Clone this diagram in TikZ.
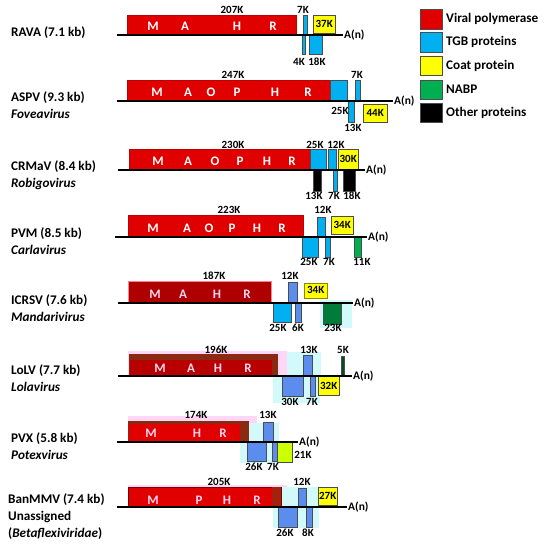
\documentclass[tikz,border=0pt]{standalone}
\usepackage{fontspec}
\setmainfont{Carlito}
\usepackage{xcolor}
\usepackage{tikz}
\usetikzlibrary{positioning}
\definecolor{polred}{HTML}{E00000}
\definecolor{polbrown}{HTML}{8B2A12}
\definecolor{tgbblue}{HTML}{00B0F0}
\definecolor{tgbviolet}{HTML}{5B8DEF}
\definecolor{cpyellow}{HTML}{FFFF00}
\definecolor{nabpgreen}{HTML}{00B050}
\definecolor{halopink}{HTML}{FFD6F5}
\definecolor{halocyan}{HTML}{D2FAFA}
\tikzset{
  orf/.style={rectangle, inner sep=0pt, draw=gray!60!black, line width=0.4pt, font=\bfseries\fontsize{11}{12}\selectfont},
  pol/.style={orf, fill=polred, draw=polred!85!black},
  tgb/.style={orf, fill=tgbblue},
  tgbv/.style={orf, fill=tgbviolet},
  cp/.style={orf, fill=cpyellow},
  nabp/.style={orf, fill=nabpgreen},
  other/.style={orf, fill=black},
  up/.style={anchor=south west},
  down/.style={anchor=north west},
  size/.style={inner sep=0pt, font=\bfseries\fontsize{11}{12}\selectfont},
  dom/.style={inner sep=0pt, text=white, font=\bfseries\fontsize{13}{14}\selectfont},
  virus/.style={anchor=west, align=left, inner sep=0pt, font=\bfseries\fontsize{13.2}{17}\selectfont},
  polya/.style={anchor=west, inner sep=1pt, font=\bfseries\fontsize{11.5}{13}\selectfont},
  genome/.style={line width=2.7pt, black},
  key/.style={rectangle, draw=gray!60!black, minimum width=22, minimum height=19.5, inner sep=0pt},
  keytext/.style={anchor=west, inner sep=0pt, font=\bfseries\fontsize{13.2}{15}\selectfont},
}
\begin{document}
\begin{tikzpicture}[x=1pt, y=-1pt]
  \useasboundingbox (0,0) rectangle (547,550);
  % legend
  \node[key, fill=polred] (k1) at (431,19) {};
  \node[key, fill=tgbblue] (k2) at (431,42) {};
  \node[key, fill=cpyellow] (k3) at (431,65.5) {};
  \node[key, fill=nabpgreen] (k4) at (431,89.5) {};
  \node[key, fill=black] (k5) at (431,112.5) {};
  \node[keytext] (t1) at (446,19) {Viral polymerase};
  \node[keytext] (t2) at (446,42) {TGB proteins};
  \node[keytext] (t3) at (446,65.5) {Coat protein};
  \node[keytext] (t4) at (446,89.5) {NABP};
  \node[keytext] (t5) at (446,112.5) {Other proteins};

  % RAVA
  \node[virus] (rava) at (11,33) {RAVA (7.1 kb)};
  \node[pol, up, minimum width=169, minimum height=20] (rava-pol) at (127,35) {};
  \node[tgb, up, minimum width=4, minimum height=20] (rava-7k) at (303,35) {};
  \node[cp, up, minimum width=22, minimum height=18] (rava-cp) at (313,33) {37K};
  \node[tgb, down, minimum width=3, minimum height=19] (rava-4k) at (302,35) {};
  \node[tgb, down, minimum width=13, minimum height=19] (rava-18k) at (309,35) {};
  \foreach \d/\x in {M/153,A/185,H/237,R/273} \node[dom] (rava-\d) at (\x,26.5) {\d};
  \node[size] (rava-l1) at (232,10) {207K};
  \node[size] (rava-l2) at (303,10) {7K};
  \node[size] (rava-l3) at (299,62) {4K};
  \node[size] (rava-l4) at (317,62) {18K};
  \coordinate (rava-5) at (117,35);
  \node[polya] (rava-an) at (343,35) {A(n)};

  % ASPV
  \node[virus] (aspv) at (11,105.5) {ASPV (9.3 kb)\\\textit{Foveavirus}};
  \node[pol, up, minimum width=203, minimum height=21] (aspv-pol) at (127,101) {};
  \node[tgb, up, minimum width=17, minimum height=21] (aspv-25k) at (330,101) {};
  \node[tgb, up, minimum width=5, minimum height=21] (aspv-7k) at (355,101) {};
  \node[tgb, down, minimum width=6, minimum height=21] (aspv-13k) at (348,101) {};
  \node[cp, down, minimum width=24, minimum height=18] (aspv-cp) at (363,104) {44K};
  \foreach \d/\x in {M/157,A/188,O/211,P/237,H/275,R/308} \node[dom] (aspv-\d) at (\x,92.5) {\d};
  \node[size] (aspv-l1) at (233,75) {247K};
  \node[size] (aspv-l2) at (357,75) {7K};
  \node[size] (aspv-l3) at (340,111) {25K};
  \node[size] (aspv-l4) at (353,128) {13K};
  \coordinate (aspv-5) at (117,101);
  \node[polya] (aspv-an) at (393,101) {A(n)};

  % CRMaV
  \node[virus] (crmav) at (11,175) {CRMaV (8.4 kb)\\\textit{Robigovirus}};
  \node[pol, up, minimum width=181, minimum height=21] (crmav-pol) at (129,170) {};
  \node[tgb, up, minimum width=16, minimum height=21] (crmav-25k) at (310,170) {};
  \node[tgb, up, minimum width=8, minimum height=21] (crmav-12k) at (328,170) {};
  \node[cp, up, minimum width=20, minimum height=21] (crmav-cp) at (338,170) {30K};
  \node[other, down, minimum width=8, minimum height=21] (crmav-13k) at (313,170) {};
  \node[tgb, down, minimum width=4, minimum height=21] (crmav-7k) at (333,170) {};
  \node[other, down, minimum width=12, minimum height=21] (crmav-18k) at (343,170) {};
  \foreach \d/\x in {M/158,A/188,O/215,P/240,H/267,R/292} \node[dom] (crmav-\d) at (\x,161.5) {\d};
  \node[size] (crmav-l1) at (233,145) {230K};
  \node[size] (crmav-l2) at (315,145) {25K};
  \node[size] (crmav-l3) at (336,145) {12K};
  \node[size] (crmav-l4) at (314,196) {13K};
  \node[size] (crmav-l5) at (334,196) {7K};
  \node[size] (crmav-l6) at (352,196) {18K};
  \coordinate (crmav-5) at (118,170);
  \node[polya] (crmav-an) at (365,170) {A(n)};

  % PVM
  \node[virus] (pvm) at (11,241) {PVM (8.5 kb)\\\textit{Carlavirus}};
  \node[pol, up, minimum width=175, minimum height=22] (pvm-pol) at (128,237) {};
  \node[tgb, up, minimum width=8, minimum height=20] (pvm-12k) at (317,237) {};
  \node[cp, up, minimum width=22, minimum height=18] (pvm-cp) at (331,234) {34K};
  \node[tgb, down, minimum width=16, minimum height=20] (pvm-25k) at (302,237) {};
  \node[tgb, down, minimum width=5, minimum height=20] (pvm-7k) at (325,237) {};
  \node[nabp, down, minimum width=7, minimum height=20] (pvm-11k) at (354,237) {};
  \foreach \d/\x in {M/153,A/187,O/209,P/232,H/257,R/282} \node[dom] (pvm-\d) at (\x,228.5) {\d};
  \node[size] (pvm-l1) at (229,210) {223K};
  \node[size] (pvm-l2) at (323,210) {12K};
  \node[size] (pvm-l3) at (309,262) {25K};
  \node[size] (pvm-l4) at (329,262) {7K};
  \node[size] (pvm-l5) at (362,262) {11K};
  \coordinate (pvm-5) at (115,237);
  \node[polya] (pvm-an) at (367,237) {A(n)};

  % ICRSV
  \fill[halocyan] (320,300) rectangle (352,328);
  \node[virus] (icrsv) at (11,308) {ICRSV (7.6 kb)\\\textit{Mandarivirus}};
  \node[pol, up, minimum width=143, minimum height=22, fill=polred!78!black, draw=halopink!60!red] (icrsv-pol) at (128,303) {};
  \node[tgbv, up, minimum width=9, minimum height=21] (icrsv-12k) at (288,303) {};
  \node[cp, up, minimum width=23, minimum height=15, draw=olive] (icrsv-cp) at (304,298) {34K};
  \node[tgb, down, minimum width=18, minimum height=19] (icrsv-25k) at (273,303) {};
  \node[tgbv, down, minimum width=6, minimum height=19] (icrsv-6k) at (295,303) {};
  \node[nabp, down, minimum width=18, minimum height=21, fill=nabpgreen!70!black] (icrsv-23k) at (323,303) {};
  \foreach \d/\x in {M/155,A/183,H/217,R/247} \node[dom, text=halopink] (icrsv-\d) at (\x,294.5) {\d};
  \node[size] (icrsv-l1) at (214,276) {187K};
  \node[size] (icrsv-l2) at (290,276) {12K};
  \node[size] (icrsv-l3) at (278,328) {25K};
  \node[size] (icrsv-l4) at (298,328) {6K};
  \node[size] (icrsv-l5) at (333,328) {23K};
  \coordinate (icrsv-5) at (118,303);
  \node[polya] (icrsv-an) at (353,303) {A(n)};

  % LoLV
  \fill[halopink] (128,351) rectangle (287,376);
  \fill[halocyan] (287,352) rectangle (321,376);
  \fill[halocyan] (273,376) rectangle (320,403);
  \node[virus] (lolv) at (11,378) {LoLV (7.7 kb)\\\textit{Lolavirus}};
  \node[pol, up, minimum width=148, minimum height=22, fill=polred!82!black, draw=polbrown] (lolv-pol) at (129,376) {};
  \fill[polbrown] (lolv-pol.north west) rectangle ([yshift=-6pt]lolv-pol.north east);
  \fill[polbrown] ([xshift=-5pt]lolv-pol.north east) rectangle (lolv-pol.south east);
  \node[tgbv, up, minimum width=9, minimum height=21] (lolv-13k) at (303,376) {};
  \node[nabp, up, minimum width=3, minimum height=20, fill=nabpgreen!45!black] (lolv-5k) at (341,376) {};
  \node[tgbv, down, minimum width=21, minimum height=20] (lolv-30k) at (282,376) {};
  \node[tgbv, down, minimum width=5, minimum height=20] (lolv-7k) at (310,376) {};
  \node[cp, down, minimum width=21, minimum height=19] (lolv-cp) at (318,376) {32K};
  \foreach \d/\x in {M/160,A/191,H/218,R/248} \node[dom, text=halopink] (lolv-\d) at (\x,368.5) {\d};
  \node[size] (lolv-l1) at (216,350) {196K};
  \node[size] (lolv-l2) at (309,350) {13K};
  \node[size] (lolv-l3) at (343,350) {5K};
  \node[size] (lolv-l4) at (290,402) {30K};
  \node[size] (lolv-l5) at (312,402) {7K};
  \coordinate (lolv-5) at (118,376);
  \node[polya] (lolv-an) at (352,376) {A(n)};

  % PVX
  \fill[halopink] (128,416) rectangle (257,442);
  \fill[halocyan] (240,423) rectangle (279,463);
  \node[virus] (pvx) at (11,446) {PVX (5.8 kb)\\\textit{Potexvirus}};
  \node[pol, up, minimum width=120, minimum height=21, draw=polbrown] (pvx-pol) at (128,442) {};
  \fill[polbrown] (pvx-pol.north west) rectangle ([yshift=-3pt]pvx-pol.north east);
  \fill[polbrown] ([xshift=-8pt]pvx-pol.north east) rectangle (pvx-pol.south east);
  \node[tgbv, up, minimum width=10, minimum height=20] (pvx-13k) at (263,442) {};
  \node[tgbv, down, minimum width=19, minimum height=19] (pvx-26k) at (247,442) {};
  \node[tgbv, down, minimum width=5, minimum height=19] (pvx-7k) at (272,442) {};
  \node[cp, down, minimum width=15, minimum height=20, fill=cpyellow!80!green] (pvx-cp) at (277,442) {};
  \foreach \d/\x in {M/151,H/197,R/223} \node[dom, text=halopink] (pvx-\d) at (\x,433.5) {\d};
  \node[size] (pvx-l1) at (196,415) {174K};
  \node[size] (pvx-l2) at (268,415) {13K};
  \node[size] (pvx-l3) at (254,467) {26K};
  \node[size] (pvx-l4) at (273,467) {7K};
  \node[size] (pvx-l5) at (303,455) {21K};
  \coordinate (pvx-5) at (117,442);
  \node[polya] (pvx-an) at (298,442) {A(n)};

  % BanMMV
  \fill[halopink] (128,485) rectangle (287,507);
  \fill[halocyan] (273,487) rectangle (319,528);
  \node[virus] (banmmv) at (8,517) {BanMMV (7.4 kb)\\Unassigned\\(\textit{Betaflexiviridae})};
  \node[pol, up, minimum width=153, minimum height=20, draw=polred!55!black] (banmmv-pol) at (128,507) {};
  \fill[polbrown!80!red] ([xshift=-9pt]banmmv-pol.north east) rectangle (banmmv-pol.south east);
  \node[tgbv, up, minimum width=8, minimum height=19] (banmmv-12k) at (298,507) {};
  \node[cp, up, minimum width=19, minimum height=18] (banmmv-cp) at (318,505) {27K};
  \node[tgbv, down, minimum width=19, minimum height=20] (banmmv-26k) at (278,507) {};
  \node[tgbv, down, minimum width=6, minimum height=20] (banmmv-8k) at (306,507) {};
  \foreach \d/\x in {M/153,P/199,H/227,R/257} \node[dom, text=halopink] (banmmv-\d) at (\x,500.5) {\d};
  \node[size] (banmmv-l1) at (219,482) {205K};
  \node[size] (banmmv-l2) at (302,482) {12K};
  \node[size] (banmmv-l3) at (285,533) {26K};
  \node[size] (banmmv-l4) at (308,533) {8K};
  \coordinate (banmmv-5) at (117,507);
  \node[polya] (banmmv-an) at (347,507) {A(n)};

  % genome lines
  \foreach \g in {rava,aspv,crmav,pvm,icrsv,lolv,pvx,banmmv} \draw[genome] (\g-5) -- (\g-an.west);
\end{tikzpicture}
\end{document}
